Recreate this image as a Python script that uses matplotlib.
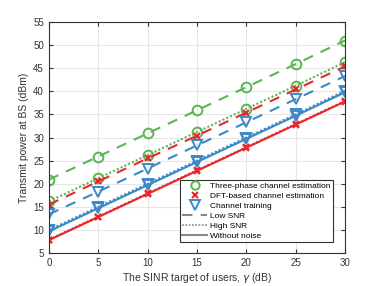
import matplotlib
matplotlib.use("Agg")
import matplotlib.pyplot as plt
from matplotlib.lines import Line2D

x = [0, 5, 10, 15, 20, 25, 30]
green_low = [20.9, 25.9, 30.9, 35.9, 40.9, 45.9, 51.0]
green_high = [16.2, 21.2, 26.2, 31.2, 36.2, 41.2, 46.3]
red_low = [15.5, 20.5, 25.5, 30.4, 35.4, 40.4, 45.4]
red_high = [7.9, 12.9, 17.9, 22.9, 27.9, 32.9, 37.9]
red_none = [7.8, 12.8, 17.8, 22.8, 27.8, 32.8, 37.8]
blue_low = [13.4, 18.3, 23.3, 28.3, 33.3, 38.3, 43.3]
blue_high = [10.0, 15.0, 20.0, 25.0, 30.0, 35.0, 40.1]
blue_none = [9.7, 14.7, 19.7, 24.7, 29.7, 34.7, 39.8]

legend_labels = ["Three-phase channel estimation", "DFT-based channel estimation",
                 "Channel training", "Low SNR", "High SNR", "Without noise"]

G = "#5ab552"
R = "#e8282c"
B = "#3d88c6"
plt.rcParams['font.family'] = ['Liberation Sans', 'DejaVu Sans']

fig = plt.figure(figsize=(3.82, 2.86), dpi=100)
ax = fig.add_axes([0.128, 0.115, 0.775, 0.808])

lw = 1.5
ms = 7
# solid lines
ax.plot(x, red_none, color=R, lw=lw, ls='-', marker='x', ms=5, mew=1.5)
ax.plot(x, blue_none, color=B, lw=lw, ls='-', marker='v', ms=ms, mfc='none', mew=1.4)
# dotted (high SNR)
ax.plot(x, red_high, color=R, lw=lw, ls=(0, (1, 1)), marker='x', ms=5, mew=1.5)
ax.plot(x, blue_high, color=B, lw=lw, ls=(0, (1, 1)), marker='v', ms=ms, mfc='none', mew=1.4)
ax.plot(x, green_high, color=G, lw=lw, ls=(0, (1, 1)), marker='o', ms=ms, mfc='none', mew=1.4)
# dashed (low SNR)
ax.plot(x, red_low, color=R, lw=lw, ls=(0, (5, 4)), marker='x', ms=5, mew=1.5)
ax.plot(x, blue_low, color=B, lw=lw, ls=(0, (5, 4)), marker='v', ms=ms, mfc='none', mew=1.4)
ax.plot(x, green_low, color=G, lw=lw, ls=(0, (5, 4)), marker='o', ms=ms, mfc='none', mew=1.4)

ax.set_xlim(0, 30)
ax.set_ylim(5, 55)
ax.set_xticks(range(0, 31, 5))
ax.set_yticks(range(5, 56, 5))
ax.grid(True, color='#e6e6e6', lw=0.8)
ax.set_axisbelow(True)
ax.tick_params(direction='in', top=True, right=True, labelsize=7, length=3, colors='#333333')
for s in ax.spines.values():
    s.set_color('#333333')
    s.set_linewidth(0.8)
ax.set_xlabel("The SINR target of users, $\\gamma$ (dB)", fontsize=7.5, color='#333333', labelpad=2)
ax.set_ylabel("Transmit power at BS (dBm)", fontsize=7.5, color='#333333', labelpad=3)

gray = '#888888'
handles = [
    Line2D([], [], ls='none', marker='o', color=G, mfc='none', ms=6, mew=1.4),
    Line2D([], [], ls='none', marker='x', color=R, ms=5, mew=1.5),
    Line2D([], [], ls='none', marker='v', color=B, mfc='none', ms=7, mew=1.4),
    Line2D([], [], ls=(0, (5, 4)), color=gray, lw=1.5),
    Line2D([], [], ls=(0, (1, 1)), color=gray, lw=1.2),
    Line2D([], [], ls='-', color=gray, lw=1.5),
]
leg = ax.legend(handles, legend_labels, loc='lower right', fontsize=6, frameon=True,
                fancybox=False, edgecolor='#333333', framealpha=1, borderpad=0.3,
                labelspacing=0.25, handlelength=3, handletextpad=0.4,
                bbox_to_anchor=(0.975, 0.03))
leg.get_frame().set_linewidth(0.8)

fig.savefig("out.png", dpi=100)
